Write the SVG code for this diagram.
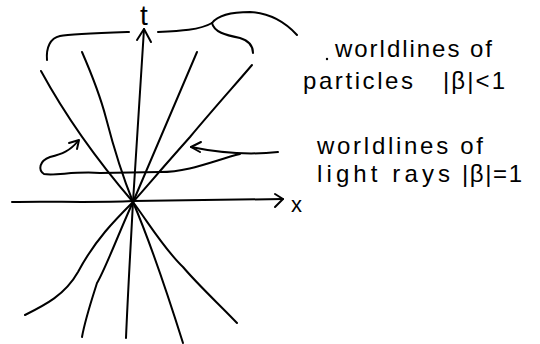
<svg xmlns="http://www.w3.org/2000/svg" width="540" height="344" viewBox="0 0 540 344">
<style>
.ln{fill:none;stroke:#000;stroke-width:2;stroke-linecap:round;stroke-linejoin:round}
.tx{font-family:"Liberation Sans","DejaVu Sans",sans-serif;font-size:24px;fill:#000}
</style>
<rect width="540" height="344" fill="#fff"/>
<g id="axes">
<path class="ln" d="M12,202 C50,201 90,203 133,201 L283,199"/>
<path class="ln" d="M275,194 L283,199 L275,207"/>
<path class="ln" d="M133,202 L144,29"/>
<path class="ln" d="M137,40 L144,29 L151,42"/>
<text class="tx" x="140" y="25" style="font-size:28px">t</text>
<text class="tx" x="291" y="212" style="font-size:22px">x</text>
</g>
<g id="worldlines">
<path class="ln" d="M41,71 Q77,137 133,202"/>
<path class="ln" d="M82,52 C92,75 100,95 106,118 C113,145 122,175 133,202"/>
<path class="ln" d="M197,52 L133,202"/>
<path class="ln" d="M252,65 C235,85 215,107 190,137 C165,165 148,185 133,202"/>
<path class="ln" d="M133,202 C115,220 95,240 78,272 C65,295 45,305 25,315"/>
<path class="ln" d="M133,202 C120,230 105,270 97,283 C90,305 85,320 82,337"/>
<path class="ln" d="M133,202 C131,240 128,290 126,338"/>
<path class="ln" d="M133,202 C145,230 160,270 183,343"/>
<path class="ln" d="M133,202 C150,225 165,250 183,267 C200,287 220,305 237,323"/>
</g>
<g id="annotations">
<path class="ln" d="M47,60 C46,48 50,38 60,36 C70,34 100,33 129,32"/>
<path class="ln" d="M158,32 C180,31 200,30 212,23"/>
<path class="ln" d="M212,23 C214,32 225,35 240,38 C250,41 253,46 253,53"/>
<path class="ln" d="M212,23 C218,15 230,12 250,12 C270,13 285,22 297,35"/>
<path class="ln" d="M278,152 C250,155 220,153 191,147"/>
<path class="ln" d="M201,142 L191,147 L200,152"/>
<path class="ln" d="M240,154 C215,160 190,172 160,172 L100,173 C75,171 55,176 44,174 C38,170 39,161 50,157 C62,154 70,151 78,141"/>
<path class="ln" d="M69,143 L79,140 L77,149"/>
</g>
<g id="labels">
<circle cx="327" cy="59" r="1.2" fill="#000"/>
<text class="tx" x="335" y="57" textLength="157" lengthAdjust="spacing">worldlines of</text>
<text class="tx" x="303" y="89" textLength="110" lengthAdjust="spacing">particles</text>
<text class="tx" x="443" y="89" textLength="62" lengthAdjust="spacing">|β|&lt;1</text>
<text class="tx" x="317" y="154" textLength="166" lengthAdjust="spacing">worldlines of</text>
<text class="tx" x="317" y="182" textLength="133" lengthAdjust="spacing">light rays</text>
<text class="tx" x="462" y="182" textLength="60" lengthAdjust="spacing">|β|=1</text>
</g>
</svg>
